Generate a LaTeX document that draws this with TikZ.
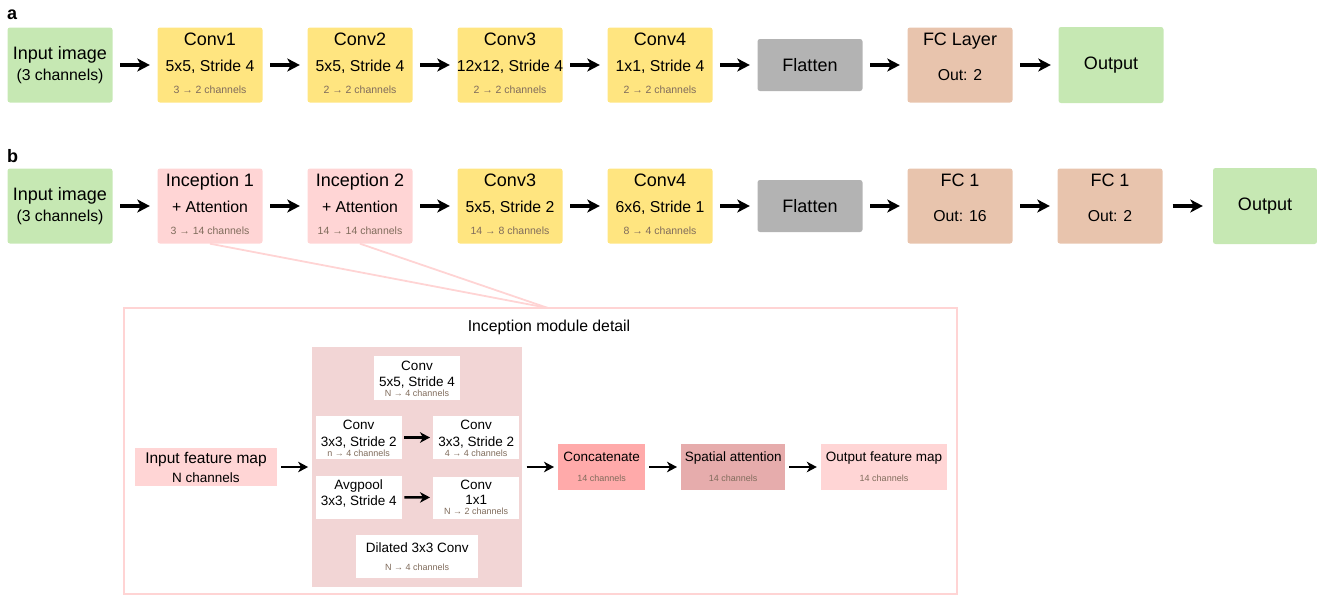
\documentclass[tikz,border=0pt]{standalone}
\usepackage{fontspec}
\setmainfont{Liberation Sans}
\usetikzlibrary{arrows.meta}

% title / kernel / channel lines of a layer box
\newcommand{\layertext}[4]{%
  \node[ttl]  (#1-t) at ([yshift=19.5pt]#1.center) {#2};
  \node[mid]  (#1-m) at ([yshift=-6pt]#1.center) {#3};
  \node[chan] (#1-s) at ([yshift=-28pt]#1.center) {#4};}
% same for the small boxes of the inception module
\newcommand{\modtext}[4]{%
  \node[stitle] (#1-t) at ([yshift=8pt]#1.center) {#2};
  \node[stitle] (#1-m) at ([yshift=-8.5pt]#1.center) {#3};
  \node[schan]  (#1-s) at ([yshift=-18.5pt]#1.center) {#4};}

\begin{document}
\begin{tikzpicture}[x=1pt, y=-1pt,
    blk/.style={rounded corners=2.5pt, inner sep=0pt, minimum width=105pt,
      minimum height=75pt, font=\fontsize{18}{21}\selectfont},
    wbox/.style={fill=white, inner sep=0pt, minimum width=86pt, minimum height=43pt},
    ttl/.style={anchor=base, inner sep=0pt, font=\fontsize{18}{21}\selectfont},
    mid/.style={anchor=base, inner sep=0pt, font=\fontsize{15.8}{19}\selectfont},
    chan/.style={anchor=base, inner sep=0pt, text=chanbrown, font=\fontsize{10.5}{12}\selectfont},
    stitle/.style={anchor=base, inner sep=0pt, font=\fontsize{13.5}{16}\selectfont},
    schan/.style={anchor=base, inner sep=0pt, text=chanbrown, font=\fontsize{9}{11}\selectfont},
    arr/.style={line width=3.2pt, -{Stealth[length=12.5pt,width=13pt,inset=3.5pt]},
      shorten <=7.5pt, shorten >=7.5pt},
    sarr/.style={line width=2.6pt, -{Stealth[length=10pt,width=10.5pt,inset=3pt]},
      shorten <=4pt, shorten >=4pt},
    zoomline/.style={draw=modpink, line width=1.8pt}]
  \definecolor{ingreen}{RGB}{198,232,179}
  \definecolor{convyel}{RGB}{255,229,128}
  \definecolor{flatgray}{RGB}{179,179,179}
  \definecolor{fctan}{RGB}{232,196,173}
  \definecolor{incpink}{RGB}{255,213,213}
  \definecolor{modpink}{RGB}{255,212,212}
  \definecolor{modbg}{RGB}{242,213,213}
  \definecolor{catpink}{RGB}{255,170,170}
  \definecolor{attpink}{RGB}{230,172,172}
  \definecolor{chanbrown}{RGB}{128,108,92}

  \useasboundingbox (0,0) rectangle (1317,595);

  % ---- a: plain CNN ----
  \node[anchor=base west, inner sep=0pt, font=\fontsize{18}{21}\selectfont\bfseries] (lab-a) at (7,19) {a};

  \node[blk, fill=ingreen] (a-in) at (60,65) {};
  \node[ttl] (a-in-t) at ([yshift=5.5pt]a-in.center) {Input image};
  \node[mid] (a-in-m) at ([yshift=-15pt]a-in.center) {(3 channels)};

  \node[blk, fill=convyel] (a-c1) at (210,65) {};
  \layertext{a-c1}{Conv1}{5x5, Stride 4}{3 → 2 channels}
  \node[blk, fill=convyel] (a-c2) at (360,65) {};
  \layertext{a-c2}{Conv2}{5x5, Stride 4}{2 → 2 channels}
  \node[blk, fill=convyel] (a-c3) at (510,65) {};
  \layertext{a-c3}{Conv3}{12x12, Stride 4}{2 → 2 channels}
  \node[blk, fill=convyel] (a-c4) at (660,65) {};
  \layertext{a-c4}{Conv4}{1x1, Stride 4}{2 → 2 channels}

  \node[blk, fill=flatgray, minimum height=52pt] (a-fl) at (810,65) {Flatten};
  \node[blk, fill=fctan] (a-fc) at (960,65) {};
  \node[ttl] (a-fc-t) at ([yshift=19.5pt]a-fc.center) {FC Layer};
  \node[mid] (a-fc-m) at ([yshift=-15.5pt]a-fc.center) {Out: 2};
  \node[blk, fill=ingreen, minimum height=76pt] (a-out) at (1111,65) {Output};

  \foreach \p/\q in {a-in/a-c1, a-c1/a-c2, a-c2/a-c3, a-c3/a-c4, a-c4/a-fl, a-fl/a-fc, a-fc/a-out}
    \draw[arr] (\p) -- (\q);

  % ---- b: inception + attention ----
  \node[anchor=base west, inner sep=0pt, font=\fontsize{18}{21}\selectfont\bfseries] (lab-b) at (7,162.5) {b};

  \node[blk, fill=ingreen] (b-in) at (60,206) {};
  \node[ttl] (b-in-t) at ([yshift=5.5pt]b-in.center) {Input image};
  \node[mid] (b-in-m) at ([yshift=-15pt]b-in.center) {(3 channels)};

  \node[blk, fill=incpink] (b-inc1) at (210,206) {};
  \layertext{b-inc1}{Inception 1}{+ Attention}{3 → 14 channels}
  \node[blk, fill=incpink] (b-inc2) at (360,206) {};
  \layertext{b-inc2}{Inception 2}{+ Attention}{14 → 14 channels}
  \node[blk, fill=convyel] (b-c3) at (510,206) {};
  \layertext{b-c3}{Conv3}{5x5, Stride 2}{14 → 8 channels}
  \node[blk, fill=convyel] (b-c4) at (660,206) {};
  \layertext{b-c4}{Conv4}{6x6, Stride 1}{8 → 4 channels}

  \node[blk, fill=flatgray, minimum height=52pt] (b-fl) at (810,206) {Flatten};
  \node[blk, fill=fctan] (b-fc1) at (960,206) {};
  \node[ttl] (b-fc1-t) at ([yshift=19.5pt]b-fc1.center) {FC 1};
  \node[mid] (b-fc1-m) at ([yshift=-15.5pt]b-fc1.center) {Out: 16};
  \node[blk, fill=fctan] (b-fc2) at (1110,206) {};
  \node[ttl] (b-fc2-t) at ([yshift=19.5pt]b-fc2.center) {FC 1};
  \node[mid] (b-fc2-m) at ([yshift=-15.5pt]b-fc2.center) {Out: 2};
  \node[blk, fill=ingreen, minimum width=104pt, minimum height=76pt] (b-out) at (1265,206) {Output};

  \foreach \p/\q in {b-in/b-inc1, b-inc1/b-inc2, b-inc2/b-c3, b-c3/b-c4, b-c4/b-fl, b-fl/b-fc1, b-fc1/b-fc2}
    \draw[arr] (\p) -- (\q);
  \draw[arr, shorten <=10pt, shorten >=10pt] (b-fc2) -- (b-out);

  % ---- inception module, blown up ----
  \node[draw=modpink, line width=1.8pt, inner sep=0pt, minimum width=833pt,
    minimum height=286pt] (detail) at (540.5,451) {};
  \coordinate (tip) at (548,308);
  \draw[zoomline] (b-inc1.south) -- (tip);
  \draw[zoomline] (b-inc2.south) -- (tip);
  \node[stitle, font=\fontsize{15.8}{19}\selectfont] (detail-t) at (549,331) {Inception module detail};

  \node[fill=incpink, inner sep=0pt, minimum width=142pt, minimum height=37.5pt] (ifm) at (206,467) {};
  \node[stitle, font=\fontsize{15.5}{18}\selectfont] (ifm-t) at ([yshift=3.7pt]ifm.center) {Input feature map};
  \node[stitle] (ifm-m) at ([yshift=-15.7pt]ifm.center) {N channels};

  \node[fill=modbg, inner sep=0pt, minimum width=210pt, minimum height=240.5pt] (bg) at (417.3,467) {};
  \node[wbox, minimum height=44pt] (k5) at (417,378) {};
  \modtext{k5}{Conv}{5x5, Stride 4}{N → 4 channels}
  \node[wbox] (k3a) at (358.7,437.5) {};
  \modtext{k3a}{Conv}{3x3, Stride 2}{n → 4 channels}
  \node[wbox] (k3b) at (476.2,437.5) {};
  \modtext{k3b}{Conv}{3x3, Stride 2}{4 → 4 channels}
  \node[wbox] (pool) at (358.7,497.3) {};
  \node[stitle] (pool-t) at ([yshift=8pt]pool.center) {Avgpool};
  \node[stitle] (pool-m) at ([yshift=-7.7pt]pool.center) {3x3, Stride 4};
  \node[wbox, minimum height=42pt] (k1) at (476.2,497.5) {};
  \node[stitle] (k1-t) at ([yshift=8.5pt]k1.center) {Conv};
  \node[stitle] (k1-m) at ([yshift=-6.5pt]k1.center) {1x1};
  \node[schan]  (k1-s) at ([yshift=-16.5pt]k1.center) {N → 2 channels};
  \node[wbox, minimum width=122pt] (dil) at (417.2,556) {};
  \node[stitle] (dil-t) at ([yshift=3.7pt]dil.center) {Dilated 3x3 Conv};
  \node[schan]  (dil-s) at ([yshift=-14pt]dil.center) {N → 4 channels};

  \draw[sarr, shorten <=2.5pt, shorten >=3pt] (k3a) -- (k3b);
  \draw[sarr, shorten <=2.5pt, shorten >=3pt] (pool) -- (k1);

  \node[fill=catpink, inner sep=0pt, minimum width=87pt, minimum height=46pt] (cat) at (601.7,467) {};
  \node[stitle] (cat-t) at ([yshift=5.5pt]cat.center) {Concatenate};
  \node[schan]  (cat-s) at ([yshift=-14.5pt]cat.center) {14 channels};
  \node[fill=attpink, inner sep=0pt, minimum width=104pt, minimum height=46pt] (att) at (733.2,467) {};
  \node[stitle] (att-t) at ([yshift=5.5pt]att.center) {Spatial attention};
  \node[schan]  (att-s) at ([yshift=-14.5pt]att.center) {14 channels};
  \node[fill=incpink, inner sep=0pt, minimum width=126pt, minimum height=46pt] (ofm) at (884,467) {};
  \node[stitle] (ofm-t) at ([yshift=5.5pt]ofm.center) {Output feature map};
  \node[schan]  (ofm-s) at ([yshift=-14.5pt]ofm.center) {14 channels};

  \draw[sarr] (ifm) -- (bg);
  \draw[sarr] (bg) -- (cat);
  \draw[sarr] (cat) -- (att);
  \draw[sarr] (att) -- (ofm);
\end{tikzpicture}
\end{document}
